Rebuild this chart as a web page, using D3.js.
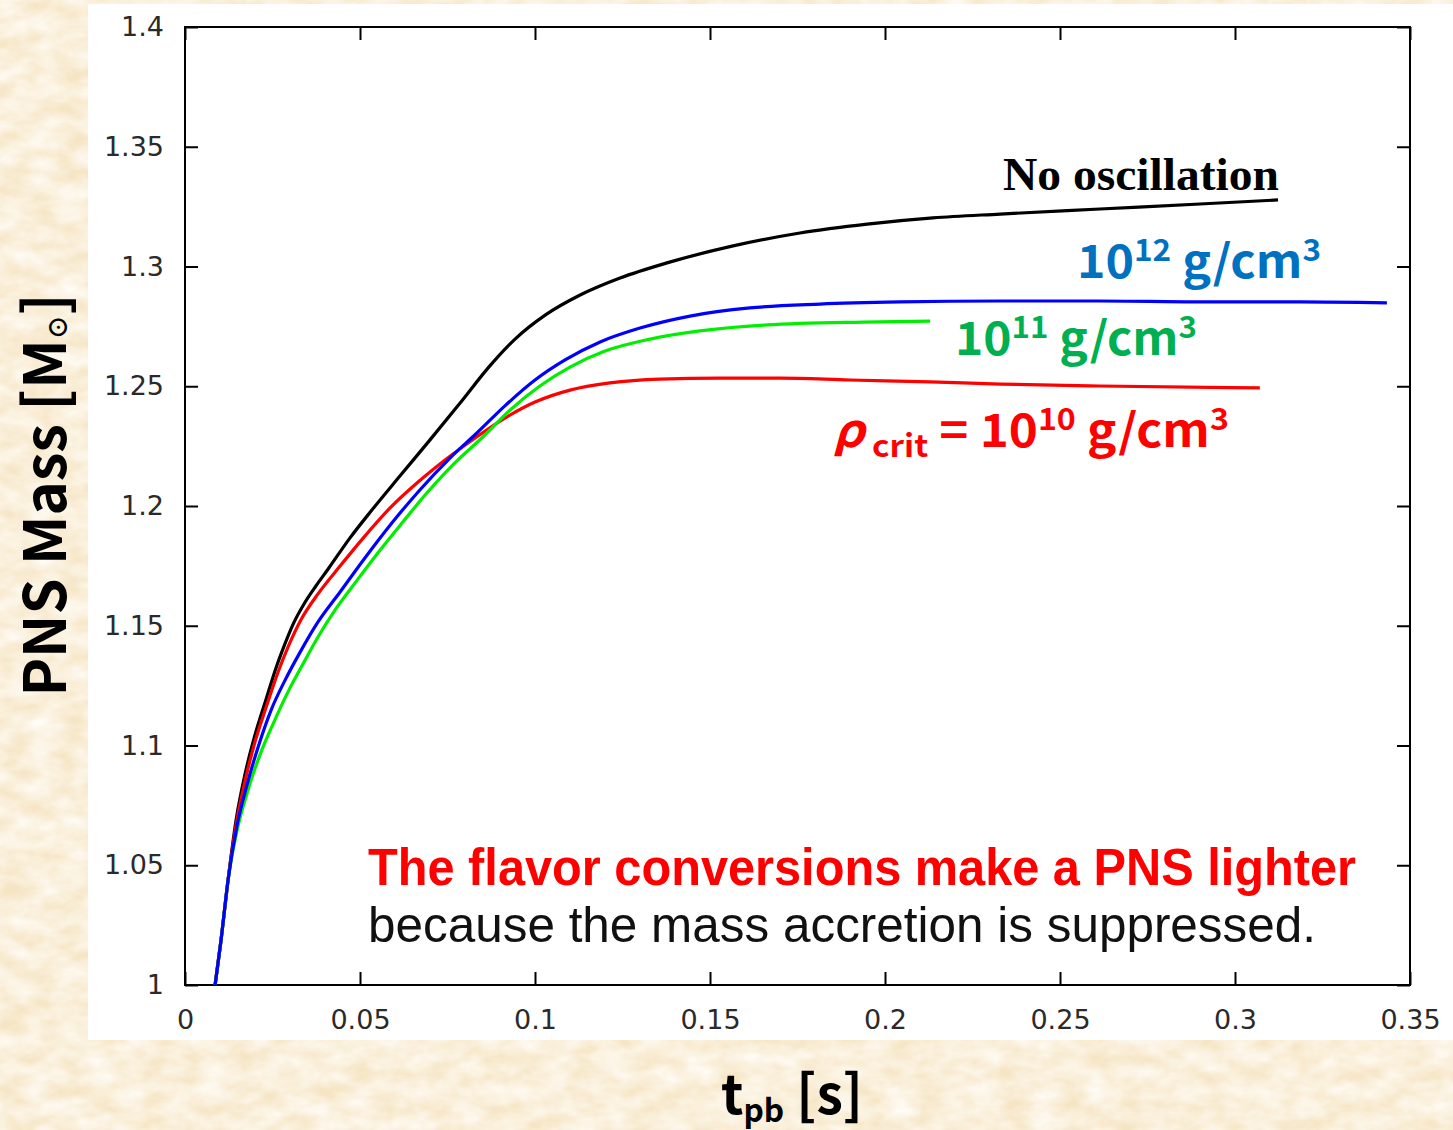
<!DOCTYPE html>
<html>
<head>
<meta charset="utf-8">
<script src="https://cdn.jsdelivr.net/npm/d3@7"></script>
<style>
  html, body { margin: 0; padding: 0; background: #f6e6c7; }
  svg { display: block; }
</style>
</head>
<body>
<script>
// Axis ticks
const xTicks = [0, 0.05, 0.1, 0.15, 0.2, 0.25, 0.3, 0.35];
const xTickLabels = ["0", "0.05", "0.1", "0.15", "0.2", "0.25", "0.3", "0.35"];
const yTicks = [1, 1.05, 1.1, 1.15, 1.2, 1.25, 1.3, 1.35, 1.4];
const yTickLabels = ["1", "1.05", "1.1", "1.15", "1.2", "1.25", "1.3", "1.35", "1.4"];

// PNS mass [Msun] versus post-bounce time [s], one pair of arrays per model
const tNoOsc = [0.0086, 0.0103, 0.0123, 0.0146, 0.0171, 0.0200, 0.0231, 0.0260, 0.0283, 0.0309, 0.0340, 0.0374, 0.0409, 0.0471, 0.0534, 0.0614, 0.0700, 0.0786, 0.0871, 0.0943, 0.1029, 0.1129, 0.1243, 0.1377, 0.1566, 0.1757, 0.1949, 0.2137, 0.2329, 0.2614, 0.2900, 0.3123];
const mNoOsc = [1.0000, 1.0188, 1.0438, 1.0689, 1.0877, 1.1044, 1.1190, 1.1324, 1.1415, 1.1507, 1.1591, 1.1666, 1.1737, 1.1866, 1.1983, 1.2125, 1.2276, 1.2430, 1.2585, 1.2697, 1.2797, 1.2881, 1.2952, 1.3015, 1.3086, 1.3140, 1.3177, 1.3203, 1.3219, 1.3240, 1.3261, 1.3278];

const tRho12 = [0.0086, 0.0103, 0.0123, 0.0149, 0.0177, 0.0209, 0.0246, 0.0286, 0.0329, 0.0380, 0.0443, 0.0514, 0.0591, 0.0671, 0.0757, 0.0837, 0.0914, 0.1000, 0.1086, 0.1186, 0.1300, 0.1443, 0.1614, 0.1814, 0.2043, 0.2329, 0.2614, 0.2900, 0.3186, 0.3434];
const mRho12 = [1.0000, 1.0188, 1.0438, 1.0668, 1.0835, 1.0994, 1.1148, 1.1273, 1.1390, 1.1516, 1.1641, 1.1783, 1.1929, 1.2067, 1.2200, 1.2309, 1.2418, 1.2526, 1.2610, 1.2685, 1.2743, 1.2793, 1.2827, 1.2843, 1.2852, 1.2856, 1.2856, 1.2852, 1.2852, 1.2848];

const tRho11 = [0.0086, 0.0103, 0.0123, 0.0149, 0.0180, 0.0214, 0.0254, 0.0294, 0.0337, 0.0380, 0.0429, 0.0486, 0.0551, 0.0620, 0.0691, 0.0771, 0.0851, 0.0929, 0.1014, 0.1100, 0.1200, 0.1329, 0.1471, 0.1663, 0.1937, 0.2129];
const mRho11 = [1.0000, 1.0188, 1.0438, 1.0647, 1.0814, 1.0960, 1.1098, 1.1223, 1.1340, 1.1453, 1.1566, 1.1679, 1.1804, 1.1929, 1.2054, 1.2180, 1.2288, 1.2401, 1.2501, 1.2580, 1.2647, 1.2697, 1.2731, 1.2756, 1.2768, 1.2772];

const tRho10 = [0.0086, 0.0103, 0.0123, 0.0146, 0.0171, 0.0200, 0.0234, 0.0266, 0.0297, 0.0331, 0.0380, 0.0443, 0.0509, 0.0586, 0.0666, 0.0743, 0.0829, 0.0914, 0.1000, 0.1100, 0.1214, 0.1357, 0.1529, 0.1700, 0.1900, 0.2129, 0.2329, 0.2614, 0.3071];
const mRho10 = [1.0000, 1.0188, 1.0438, 1.0668, 1.0848, 1.1015, 1.1169, 1.1307, 1.1420, 1.1524, 1.1633, 1.1749, 1.1866, 1.1992, 1.2100, 1.2192, 1.2284, 1.2367, 1.2434, 1.2484, 1.2514, 1.2530, 1.2534, 1.2534, 1.2526, 1.2518, 1.2509, 1.2501, 1.2493];

const W = 1453, H = 1130;
const svg = d3.select("body").append("svg").attr("width", W).attr("height", H);

// Paper-like backdrop
const defs = svg.append("defs");
const paper = defs.append("filter").attr("id", "paper")
  .attr("x", 0).attr("y", 0).attr("width", "100%").attr("height", "100%");
paper.append("feTurbulence").attr("type", "fractalNoise")
  .attr("baseFrequency", "0.035 0.06").attr("numOctaves", 3).attr("seed", 11);
paper.append("feColorMatrix").attr("type", "matrix")
  .attr("values", "0 0 0 0 1  0 0 0 0 0.985  0 0 0 0 0.95  1.3 0 0 0 -0.22");
svg.append("rect").attr("width", W).attr("height", H).attr("fill", "#f6e5c4");
svg.append("rect").attr("width", W).attr("height", H).attr("filter", "url(#paper)");

// White chart panel
svg.append("rect").attr("x", 88).attr("y", 4).attr("width", W - 88).attr("height", 1036).attr("fill", "#ffffff");

const x = d3.scaleLinear().domain([0, 0.35]).range([185, 1410]);
const y = d3.scaleLinear().domain([1, 1.4]).range([985, 27]);

const tickFont = "'DejaVu Sans', sans-serif";
const tickLen = 13;

function styleAxis(g) {
  g.select(".domain").remove();
  g.selectAll(".tick line").attr("stroke", "#000").attr("stroke-width", 2);
  g.selectAll(".tick text").attr("fill", "#2a2a2a").attr("font-family", tickFont).attr("font-size", 27);
}

// Bottom axis with labels
svg.append("g").attr("transform", `translate(0,${y(1)})`)
  .call(d3.axisBottom(x).tickValues(xTicks).tickSize(-tickLen).tickPadding(25)
    .tickFormat((d, i) => xTickLabels[i]))
  .call(styleAxis);
// Left axis with labels
svg.append("g").attr("transform", `translate(${x(0)},0)`)
  .call(d3.axisLeft(y).tickValues(yTicks).tickSize(-tickLen).tickPadding(21)
    .tickFormat((d, i) => yTickLabels[i]))
  .call(styleAxis);
// Mirrored ticks on top and right
svg.append("g").attr("transform", `translate(0,${y(1.4)})`)
  .call(d3.axisTop(x).tickValues(xTicks).tickSize(-tickLen).tickFormat(""))
  .call(styleAxis);
svg.append("g").attr("transform", `translate(${x(0.35)},0)`)
  .call(d3.axisRight(y).tickValues(yTicks).tickSize(-tickLen).tickFormat(""))
  .call(styleAxis);

// Frame
svg.append("rect")
  .attr("x", x(0)).attr("y", y(1.4))
  .attr("width", x(0.35) - x(0)).attr("height", y(1) - y(1.4))
  .attr("fill", "none").attr("stroke", "#000").attr("stroke-width", 2);

// Curves
const line = d3.line().x(d => x(d[0])).y(d => y(d[1])).curve(d3.curveMonotoneX);
const series = [
  { t: tNoOsc, m: mNoOsc, color: "#000000" },
  { t: tRho10, m: mRho10, color: "#ff0000" },
  { t: tRho11, m: mRho11, color: "#00ee00" },
  { t: tRho12, m: mRho12, color: "#0000ff" }
];
svg.append("g").selectAll("path").data(series).join("path")
  .attr("d", s => line(s.t.map((t, i) => [t, s.m[i]])))
  .attr("fill", "none").attr("stroke", s => s.color)
  .attr("stroke-width", 3.2).attr("stroke-linejoin", "round").attr("stroke-linecap", "butt");

// Stretch or squeeze a text element horizontally to a given width
function fitWidth(sel, x0, width) {
  const w = sel.node().getBBox().width;
  const k = width / w;
  sel.attr("transform", `translate(${x0},0) scale(${k},1) translate(${-x0},0)`);
}

const jpFont = "'Noto Sans CJK JP', 'Noto Sans', sans-serif";
const narrowFont = "'Liberation Sans Narrow', 'Liberation Sans', 'Noto Sans CJK JP', sans-serif";

// Series labels
const noOsc = svg.append("text").attr("x", 1003).attr("y", 190)
  .attr("font-family", "'Liberation Serif', 'Times New Roman', serif")
  .attr("font-weight", "bold").attr("font-size", 47).attr("fill", "#000")
  .text("No oscillation");
fitWidth(noOsc, 1003, 276);

function densityLabel(x0, y0, exp, color, width) {
  const t = svg.append("text").attr("x", x0).attr("y", y0)
    .attr("font-family", jpFont).attr("font-weight", "bold")
    .attr("font-size", 46).attr("fill", color);
  t.append("tspan").text("10");
  t.append("tspan").attr("font-size", 30).attr("dy", -17).text(exp);
  t.append("tspan").attr("dy", 17).text(" g/cm");
  t.append("tspan").attr("font-size", 30).attr("dy", -17).text("3");
  fitWidth(t, x0, width);
  return t;
}
densityLabel(1077, 278, "12", "#0070c0", 244);
densityLabel(955, 355, "11", "#00b050", 242);

const rho = svg.append("text").attr("x", 833).attr("y", 447)
  .attr("font-family", jpFont).attr("font-weight", "bold")
  .attr("font-size", 46).attr("fill", "#ff0000");
rho.append("tspan").attr("font-style", "italic").text("ρ");
rho.append("tspan").attr("font-size", 31).attr("dy", 10).text(" crit");
rho.append("tspan").attr("dy", -10).text(" = 10");
rho.append("tspan").attr("font-size", 30).attr("dy", -17).text("10");
rho.append("tspan").attr("dy", 17).text(" g/cm");
rho.append("tspan").attr("font-size", 30).attr("dy", -17).text("3");
fitWidth(rho, 833, 396);

// Caption
svg.append("text").attr("x", 368).attr("y", 885)
  .attr("font-family", narrowFont).attr("font-weight", "bold").attr("font-size", 52)
  .attr("fill", "#ff0000")
  .attr("textLength", 988).attr("lengthAdjust", "spacingAndGlyphs")
  .text("The flavor conversions make a PNS lighter");
svg.append("text").attr("x", 368).attr("y", 942)
  .attr("font-family", narrowFont).attr("font-size", 50)
  .attr("fill", "#111")
  .attr("textLength", 948).attr("lengthAdjust", "spacingAndGlyphs")
  .text("because the mass accretion is suppressed.");

// Axis titles
const yTitle = svg.append("text")
  .attr("transform", "translate(66,495) rotate(-90)")
  .attr("text-anchor", "middle")
  .attr("font-family", jpFont).attr("font-weight", "bold").attr("font-size", 58)
  .attr("fill", "#000");
yTitle.append("tspan").text("PNS Mass [M");
yTitle.append("tspan").attr("font-size", 24).attr("dy", 1).text("⊙");
yTitle.append("tspan").attr("dy", -1).text("]");

const xTitle = svg.append("text").attr("x", 721).attr("y", 1114)
  .attr("font-family", jpFont).attr("font-weight", "bold").attr("font-size", 54)
  .attr("fill", "#000");
xTitle.append("tspan").text("t");
xTitle.append("tspan").attr("font-size", 32).attr("dy", 8).text("pb");
xTitle.append("tspan").attr("dy", -8).text(" [s]");
fitWidth(xTitle, 721, 142);
</script>
</body>
</html>
